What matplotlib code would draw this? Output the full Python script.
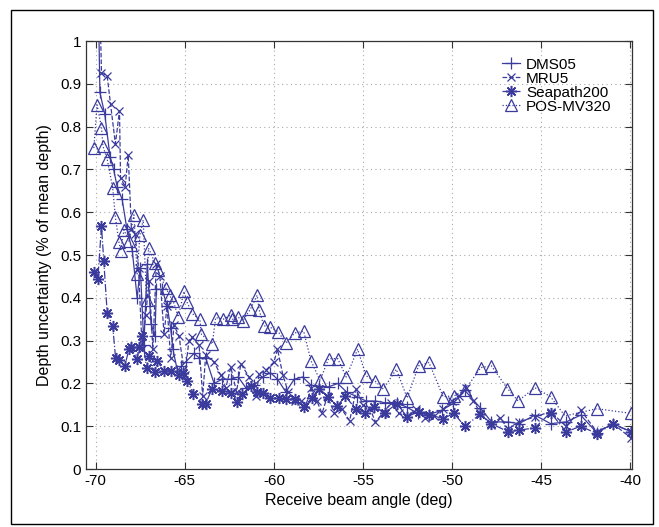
import numpy as np
import matplotlib.pyplot as plt
from matplotlib.patches import Rectangle

plt.rcParams["font.family"] = ["Liberation Sans", "DejaVu Sans"]
plt.rcParams["axes.unicode_minus"] = False

# receive beam angle (deg) and depth uncertainty (% of mean depth)
dms05_ang = [-69.85, -69.77, -69.5, -69.2, -69.0, -68.8, -68.52, -68.25, -67.95,
             -67.68, -67.5, -67.3, -67.11, -66.9, -66.68, -66.6, -66.27, -65.99,
             -65.8, -65.67, -65.42, -65.2, -64.96, -64.49, -64.2, -63.83, -63.36,
             -62.9, -62.42, -62.0, -61.58, -61.1, -60.64, -60.2, -59.8, -59.33,
             -58.86, -58.39, -57.92, -57.45, -56.93, -56.42, -55.92, -55.35, -54.83,
             -54.3, -53.79, -53.1, -52.52, -51.92, -51.3, -50.55, -49.95, -49.29,
             -48.41, -47.79, -46.85, -46.25, -45.35, -44.47, -43.6, -42.78, -41.88,
             -40.96, -39.95]
dms05_unc = [1.08, 0.88, 0.83, 0.73, 0.70, 0.66, 0.63, 0.56, 0.51,
             0.40, 0.47, 0.29, 0.48, 0.34, 0.31, 0.42, 0.42, 0.38,
             0.33, 0.28, 0.23, 0.24, 0.25, 0.27, 0.26, 0.26, 0.20,
             0.21, 0.21, 0.215, 0.19, 0.196, 0.215, 0.225, 0.21, 0.18,
             0.21, 0.215, 0.196, 0.193, 0.192, 0.20, 0.18, 0.169, 0.159,
             0.159, 0.155, 0.155, 0.144, 0.13, 0.127, 0.138, 0.153, 0.184,
             0.143, 0.11, 0.11, 0.106, 0.126, 0.106, 0.11, 0.126, 0.085,
             0.106, 0.087]

mru5_ang = [-69.75, -69.68, -69.36, -69.17, -68.9, -68.67, -68.61, -68.35, -68.18,
            -68.0, -67.8, -67.6, -67.4, -67.2, -67.0, -66.8, -66.6, -66.4, -66.17,
            -66.0, -65.8, -65.6, -65.33, -65.0, -64.77, -64.58, -64.2, -64.0,
            -63.83, -63.36, -62.98, -62.7, -62.42, -62.1, -61.86, -61.39, -61.0,
            -60.83, -60.45, -60.0, -59.8, -59.5, -59.2, -58.8, -58.5, -58.2,
            -57.9, -57.6, -57.3, -57.0, -56.6, -56.2, -55.75, -55.38, -55.0,
            -54.6, -54.3, -53.9, -53.4, -53.0, -52.52, -52.0, -51.5, -51.0,
            -50.5, -50.0, -49.6, -49.2, -48.8, -48.41, -47.79, -47.3, -46.85,
            -46.25, -45.35, -44.47, -43.6, -42.78, -41.88, -40.96, -39.95]
mru5_unc = [1.05, 0.926, 0.918, 0.852, 0.76, 0.837, 0.68, 0.66, 0.734,
            0.56, 0.55, 0.47, 0.28, 0.36, 0.44, 0.28, 0.48, 0.45, 0.316,
            0.38, 0.26, 0.336, 0.31, 0.22, 0.30, 0.308, 0.289, 0.17,
            0.266, 0.25, 0.219, 0.19, 0.238, 0.18, 0.246, 0.215, 0.17,
            0.223, 0.231, 0.25, 0.28, 0.22, 0.18, 0.16, 0.16, 0.15,
            0.19, 0.16, 0.13, 0.17, 0.13, 0.14, 0.113, 0.186, 0.15,
            0.14, 0.11, 0.13, 0.155, 0.13, 0.124, 0.14, 0.12, 0.125,
            0.14, 0.16, 0.17, 0.19, 0.16, 0.13, 0.102, 0.12, 0.093,
            0.11, 0.122, 0.134, 0.10, 0.138, 0.087, 0.106, 0.072]

sea200_ang = [-70.11, -69.89, -69.68, -69.55, -69.36, -69.05, -68.89, -68.7, -68.37,
              -68.14, -68.05, -67.68, -67.58, -67.4, -67.15, -67.02, -66.68, -66.55,
              -66.15, -65.8, -65.33, -65.1, -64.86, -64.52, -64.02, -63.83, -63.49,
              -62.9, -62.42, -62.05, -61.77, -61.3, -60.96, -60.59, -60.2, -59.74,
              -59.33, -58.82, -58.33, -57.87, -57.45, -56.94, -56.46, -55.99, -55.4,
              -54.9, -54.36, -53.76, -53.09, -52.54, -51.88, -51.3, -50.5, -49.89,
              -49.29, -48.41, -47.79, -46.85, -46.25, -45.35, -44.47, -43.6, -42.78,
              -41.88, -40.96, -39.95]
sea200_unc = [0.46, 0.443, 0.567, 0.485, 0.365, 0.334, 0.26, 0.255, 0.241,
              0.28, 0.285, 0.258, 0.285, 0.31, 0.237, 0.263, 0.227, 0.252,
              0.228, 0.23, 0.22, 0.225, 0.205, 0.176, 0.153, 0.153, 0.186,
              0.183, 0.178, 0.157, 0.176, 0.193, 0.18, 0.177, 0.166, 0.167,
              0.163, 0.163, 0.145, 0.166, 0.188, 0.168, 0.147, 0.17, 0.14,
              0.13, 0.144, 0.132, 0.153, 0.122, 0.134, 0.127, 0.118, 0.13,
              0.10, 0.128, 0.106, 0.087, 0.091, 0.096, 0.132, 0.087, 0.10,
              0.083, 0.105, 0.087]

posmv_ang = [-70.11, -69.93, -69.68, -69.6, -69.36, -69.05, -68.9, -68.7, -68.6,
             -68.42, -68.14, -67.86, -67.68, -67.52, -67.34, -67.15, -67.04, -66.68,
             -66.5, -66.08, -65.86, -65.65, -65.37, -65.05, -64.88, -64.58, -64.16,
             -64.07, -63.46, -63.27, -62.85, -62.42, -62.33, -62.02, -61.74, -61.33,
             -60.94, -60.83, -60.57, -60.2, -59.76, -59.33, -58.84, -58.33, -57.92,
             -57.41, -56.93, -56.42, -55.94, -55.3, -54.83, -54.31, -53.86, -53.13,
             -52.52, -51.88, -51.3, -50.5, -49.89, -49.29, -48.39, -47.79, -46.89,
             -46.29, -45.35, -44.47, -43.66, -41.88, -39.95]
posmv_unc = [0.75, 0.851, 0.798, 0.755, 0.724, 0.657, 0.588, 0.53, 0.51,
             0.559, 0.532, 0.594, 0.456, 0.548, 0.582, 0.396, 0.516, 0.482,
             0.464, 0.424, 0.406, 0.392, 0.355, 0.415, 0.39, 0.363, 0.35,
             0.315, 0.292, 0.354, 0.35, 0.36, 0.35, 0.355, 0.347, 0.373,
             0.406, 0.372, 0.335, 0.331, 0.321, 0.294, 0.318, 0.322, 0.253,
             0.207, 0.258, 0.258, 0.215, 0.28, 0.218, 0.205, 0.187, 0.233,
             0.166, 0.241, 0.249, 0.169, 0.171, 0.184, 0.237, 0.241, 0.188,
             0.159, 0.19, 0.169, 0.124, 0.141, 0.13]

col = "#3b3b9e"
asterisk = (8, 2, 0)

fig = plt.figure(figsize=(6.59, 5.27), dpi=100)
ax = fig.add_axes([0.1305, 0.110, 0.8285, 0.812])

ax.plot(dms05_ang, dms05_unc, "-", marker="+", color=col, lw=0.9, ms=9, mew=0.9,
        label="DMS05")
ax.plot(mru5_ang, mru5_unc, "--", marker="x", color=col, lw=0.9, ms=6, mew=0.9,
        label="MRU5")
ax.plot(sea200_ang, sea200_unc, "-.", marker=asterisk, color=col, lw=0.9, ms=8,
        mew=1.1, label="Seapath200")
ax.plot(posmv_ang, posmv_unc, ":", marker="^", color=col, lw=0.9, ms=8, mew=0.9,
        mfc="none", label="POS-MV320")

ax.set_xlim(-70.55, -39.9)
ax.set_ylim(0, 1)
ax.set_xticks(np.arange(-70, -39, 5))
ax.set_yticks(np.arange(0, 1.01, 0.1))
ax.set_yticklabels(["0", "0.1", "0.2", "0.3", "0.4", "0.5", "0.6", "0.7", "0.8", "0.9", "1"])
ax.tick_params(direction="in", top=True, right=True, labelsize=11, length=5,
               color="#333333")
for s in ax.spines.values():
    s.set_color("#333333")
    s.set_linewidth(0.9)
ax.grid(True, linestyle=(0, (1, 3)), color="#aaaaaa", linewidth=0.8)

ax.set_xlabel("Receive beam angle (deg)", fontsize=11.5, labelpad=4)
ax.set_ylabel("Depth uncertainty (% of mean depth)", fontsize=11.5, labelpad=6)

ax.legend(loc="upper right", bbox_to_anchor=(0.985, 0.99), frameon=False,
          fontsize=11, handlelength=1.2, handletextpad=0.4, labelspacing=0.0,
          borderpad=0.3)

# frame round the whole figure
fig.patches.append(Rectangle((0.0167, 0.0057), 0.974, 0.975, transform=fig.transFigure,
                             fill=False, edgecolor="black", linewidth=1.0))

fig.savefig("out.png", dpi=100)
